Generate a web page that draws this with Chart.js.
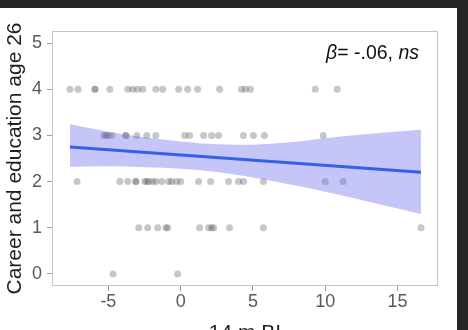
<!DOCTYPE html>
<html>
<head>
<meta charset="utf-8">
<script src="https://cdn.jsdelivr.net/npm/chart.js@4.4.1/dist/chart.umd.min.js"></script>
<style>
  html, body { margin: 0; padding: 0; background: #262626; width: 468px; height: 330px; overflow: hidden; }
  #wrap { position: absolute; left: 0; top: 8px; width: 457px; height: 322px; background: #ffffff; overflow: hidden; }
  canvas { display: block; }
</style>
</head>
<body>
<div id="wrap"><canvas id="c" width="457" height="322"></canvas></div>
<script>
// ---- data ----
const xTicks = [-5, 0, 5, 10, 15];
const yTicks = [0, 1, 2, 3, 4, 5];

// observed points, grouped by outcome value (x = 14 m BI)
const row4X = [-7.66, -7.10, -5.93, -5.93, -4.90, -3.66, -3.31, -2.97, -2.62, -1.72, -1.24, -0.14, 0.48, 1.17, 2.69, 4.21, 4.48, 4.83, 9.31, 10.83];
const row3X = [-5.31, -5.17, -5.03, -4.76, -3.79, -3.79, -3.03, -2.34, -1.72, 0.28, 0.62, 1.59, 2.14, 2.62, 4.34, 5.03, 5.79, 9.86];
const row2X = [-7.17, -4.21, -3.66, -3.10, -3.10, -2.48, -2.34, -2.21, -1.93, -1.72, -1.31, -0.83, -0.62, -0.28, 0.0, 1.24, 2.07, 3.31, 4.0, 4.34, 5.72, 10.0, 11.24];
const row1X = [-2.90, -2.28, -1.59, -1.03, -0.90, 1.31, 1.93, 2.14, 2.28, 3.38, 5.72, 16.62];
const row0X = [-4.67, -0.21];

// fitted regression line
const fitX = [-7.66, 16.62];
const fitY = [2.75, 2.20];

// confidence band
const bandX     = [-7.66, -5,   -2.5, 0,    2.5,  5,    7.5,  10,   12.5, 16.62];
const bandUpper = [3.24,  3.08, 2.96, 2.87, 2.81, 2.80, 2.85, 2.94, 3.02, 3.12];
const bandLower = [2.32,  2.33, 2.31, 2.28, 2.21, 2.09, 1.94, 1.78, 1.60, 1.30];

const rows = [[0, row0X], [1, row1X], [2, row2X], [3, row3X], [4, row4X]];
const pointData = [];
rows.forEach(([y, xs]) => xs.forEach(x => pointData.push({x: x, y: y})));
const zip = (xs, ys) => xs.map((x, i) => ({x: x, y: ys[i]}));

const overlay = {
  id: 'overlay',
  afterDraw(chart) {
    const ctx = chart.ctx, a = chart.chartArea;
    ctx.save();
    // panel border
    ctx.strokeStyle = '#c4c4c4';
    ctx.lineWidth = 1;
    ctx.strokeRect(Math.round(a.left) + 0.5, Math.round(a.top) + 0.5, Math.round(a.right - a.left) - 1, Math.round(a.bottom - a.top) - 1);
    // y title
    ctx.fillStyle = '#1f1f1f';
    ctx.font = '21px "Liberation Sans", Arial, sans-serif';
    ctx.textAlign = 'center';
    ctx.textBaseline = 'middle';
    ctx.translate(15, (a.top + a.bottom) / 2);
    ctx.rotate(-Math.PI / 2);
    ctx.fillText('Career and education age 26', 0, 0);
    ctx.restore();
    ctx.save();
    // x title (cut off at bottom)
    ctx.fillStyle = '#1f1f1f';
    ctx.font = '21px "Liberation Sans", Arial, sans-serif';
    ctx.textAlign = 'center';
    ctx.textBaseline = 'alphabetic';
    ctx.fillText('14 m BI', (a.left + a.right) / 2, 330.5);
    // annotation
    const parts = [
      ['β', 'italic 19.5px "Liberation Sans", Arial, sans-serif'],
      ['= -.06, ', '19.5px "Liberation Sans", Arial, sans-serif'],
      ['ns', 'italic 19.5px "Liberation Sans", Arial, sans-serif']
    ];
    let total = 0;
    parts.forEach(p => { ctx.font = p[1]; total += ctx.measureText(p[0]).width; });
    let x = 419 - total;
    ctx.textAlign = 'left';
    ctx.fillStyle = '#111';
    parts.forEach(p => { ctx.font = p[1]; ctx.fillText(p[0], x, 50.5); x += ctx.measureText(p[0]).width; });
    ctx.restore();
  }
};

new Chart(document.getElementById('c'), {
  type: 'scatter',
  data: {
    datasets: [
      { label: 'fit', data: zip(fitX, fitY), showLine: true, pointRadius: 0, borderColor: '#3560E8', borderWidth: 3, fill: false, order: 0 },
      { label: 'upper', data: zip(bandX, bandUpper), showLine: true, pointRadius: 0, borderWidth: 0, borderColor: 'rgba(0,0,0,0)', backgroundColor: 'rgba(110,110,235,0.4)', fill: '+1', cubicInterpolationMode: 'monotone', order: 1 },
      { label: 'lower', data: zip(bandX, bandLower), showLine: true, pointRadius: 0, borderWidth: 0, borderColor: 'rgba(0,0,0,0)', fill: false, cubicInterpolationMode: 'monotone', order: 1 },
      { label: 'obs', data: pointData, pointRadius: 3.5, pointBorderWidth: 0, pointBackgroundColor: 'rgba(70,70,70,0.3)', pointBorderColor: 'rgba(0,0,0,0)', order: 2 }
    ]
  },
  options: {
    responsive: false,
    animation: false,
    devicePixelRatio: 1,
    layout: { padding: { left: 0, top: 23, right: 19, bottom: 0 } },
    plugins: { legend: { display: false }, tooltip: { enabled: false } },
    scales: {
      x: {
        type: 'linear', min: -8.9, max: 17.8,
        afterBuildTicks: s => { s.ticks = xTicks.map(v => ({value: v})); },
        afterFit: s => { s.height = 44; },
        grid: { display: true, drawOnChartArea: false, drawTicks: true, tickLength: 5, color: '#9c9c9c' },
        border: { display: false },
        ticks: { font: { size: 18, family: '"Liberation Sans", Arial, sans-serif' }, color: '#595959', padding: 0, maxRotation: 0 }
      },
      y: {
        type: 'linear', min: -0.26, max: 5.26,
        afterBuildTicks: s => { s.ticks = yTicks.map(v => ({value: v})); },
        afterFit: s => { s.width = 52; },
        grid: { display: true, drawOnChartArea: false, drawTicks: true, tickLength: 5, color: '#9c9c9c' },
        border: { display: false },
        ticks: { font: { size: 18, family: '"Liberation Sans", Arial, sans-serif' }, color: '#595959', padding: 5 }
      }
    }
  },
  plugins: [overlay]
});
</script>
</body>
</html>
